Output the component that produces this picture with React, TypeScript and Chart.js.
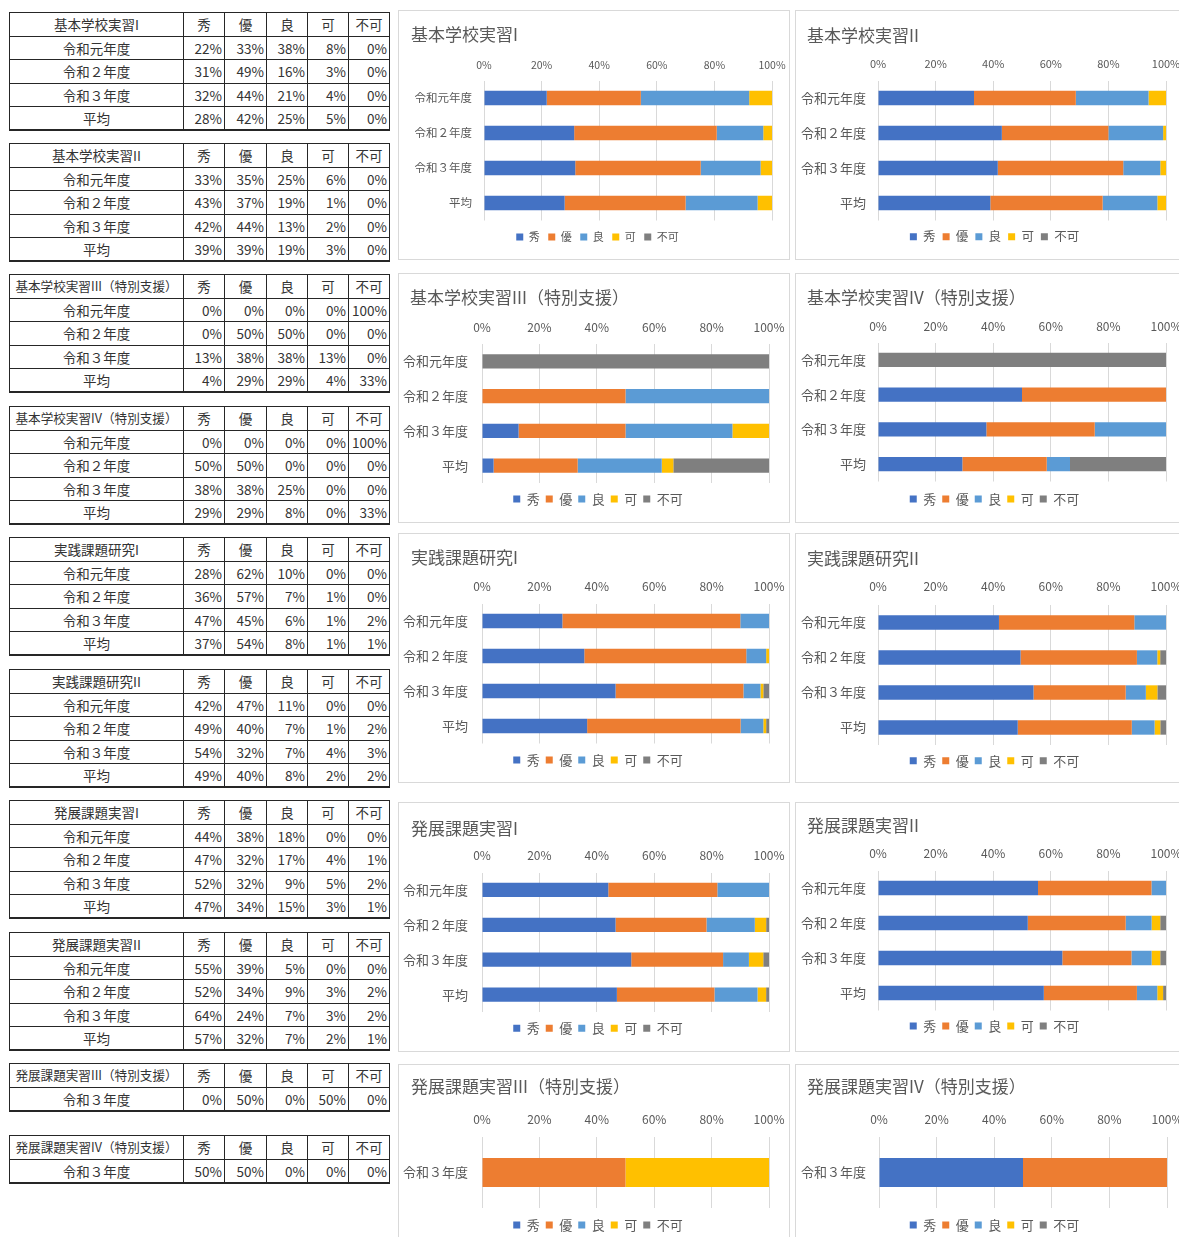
import React, { useEffect, useRef } from "react";
import { Chart, registerables } from "chart.js";

Chart.register(...registerables);

const FONT = '"Noto Sans CJK JP", "Noto Sans", sans-serif';

// series (grades) and their colours
const grades = ["秀", "優", "良", "可", "不可"];
const gradeColors = ["#4472C4", "#ED7D31", "#5B9BD5", "#FFC000", "#7F7F7F"];

// categories
const years = ["令和元年度", "令和２年度", "令和３年度", "平均"];
const yearsR3 = ["令和３年度"];

// x-axis tick values (shown as %)
const percentTicks = [0, 20, 40, 60, 80, 100];

// values per course: one row per category, one column per grade (%)
const kihon1 = [[22, 33, 38, 8, 0], [31, 49, 16, 3, 0], [32, 44, 21, 4, 0], [28, 42, 25, 5, 0]];
const kihon2 = [[33, 35, 25, 6, 0], [43, 37, 19, 1, 0], [42, 44, 13, 2, 0], [39, 39, 19, 3, 0]];
const kihon3 = [[0, 0, 0, 0, 100], [0, 50, 50, 0, 0], [13, 38, 38, 13, 0], [4, 29, 29, 4, 33]];
const kihon4 = [[0, 0, 0, 0, 100], [50, 50, 0, 0, 0], [38, 38, 25, 0, 0], [29, 29, 8, 0, 33]];
const jissen1 = [[28, 62, 10, 0, 0], [36, 57, 7, 1, 0], [47, 45, 6, 1, 2], [37, 54, 8, 1, 1]];
const jissen2 = [[42, 47, 11, 0, 0], [49, 40, 7, 1, 2], [54, 32, 7, 4, 3], [49, 40, 8, 2, 2]];
const hatten1 = [[44, 38, 18, 0, 0], [47, 32, 17, 4, 1], [52, 32, 9, 5, 2], [47, 34, 15, 3, 1]];
const hatten2 = [[55, 39, 5, 0, 0], [52, 34, 9, 3, 2], [64, 24, 7, 3, 2], [57, 32, 7, 2, 1]];
const hatten3 = [[0, 50, 0, 50, 0]];
const hatten4 = [[50, 50, 0, 0, 0]];

// course titles
const tKihon1 = "基本学校実習I";
const tKihon2 = "基本学校実習II";
const tKihon3 = "基本学校実習III（特別支援）";
const tKihon4 = "基本学校実習IV（特別支援）";
const tJissen1 = "実践課題研究I";
const tJissen2 = "実践課題研究II";
const tHatten1 = "発展課題実習I";
const tHatten2 = "発展課題実習II";
const tHatten3 = "発展課題実習III（特別支援）";
const tHatten4 = "発展課題実習IV（特別支援）";

type Layout = {
  x: number; y: number;
  titleX: number; titleCy: number; titleFont: number;
  tickCy: number; tickFont: number;
  plotTop: number; plotBottom: number; plotLeft: number; plotRight: number;
  labelRight: number; labelFont: number;
  legendCx: number; legendCy: number; legendFont: number; legendPad: number;
};

function mk(col: number, o: Partial<Layout>): Layout {
  const base: Layout =
    col === 0
      ? {
          x: 398, y: 0, titleX: 410, titleCy: 0, titleFont: 17, tickCy: 0, tickFont: 12,
          plotTop: 0, plotBottom: 0, plotLeft: 482, plotRight: 769, labelRight: 468, labelFont: 13,
          legendCx: 598, legendCy: 0, legendFont: 13, legendPad: 6,
        }
      : {
          x: 795, y: 0, titleX: 807, titleCy: 0, titleFont: 17, tickCy: 0, tickFont: 12,
          plotTop: 0, plotBottom: 0, plotLeft: 878, plotRight: 1166, labelRight: 866, labelFont: 13,
          legendCx: 994.5, legendCy: 0, legendFont: 13, legendPad: 6,
        };
  return { ...base, ...o };
}

const panels = [
  { title: tKihon1, cats: years, values: kihon1, L: mk(0, { y: 10, titleX: 411, titleCy: 35, tickCy: 65, tickFont: 10.5, plotTop: 80.5, plotBottom: 220.5, plotLeft: 484, plotRight: 772, labelRight: 472, labelFont: 11.5, legendCx: 597.5, legendCy: 237, legendFont: 11, legendPad: 8.5 }) },
  { title: tKihon2, cats: years, values: kihon2, L: mk(1, { y: 10, titleCy: 35.5, tickCy: 63.5, tickFont: 11, plotTop: 80.5, plotBottom: 220.5, legendCy: 236.7, legendFont: 12.5, legendPad: 7 }) },
  { title: tKihon3, cats: years, values: kihon3, L: mk(0, { y: 273, titleCy: 298, tickCy: 327, plotTop: 344, plotBottom: 483, legendCy: 499 }) },
  { title: tKihon4, cats: years, values: kihon4, L: mk(1, { y: 273, titleCy: 298, tickCy: 326, plotTop: 342.5, plotBottom: 481.5, legendCy: 499 }) },
  { title: tJissen1, cats: years, values: jissen1, L: mk(0, { y: 533, titleX: 411, titleCy: 557.5, tickCy: 586.7, plotTop: 603.5, plotBottom: 743.5, legendCy: 760 }) },
  { title: tJissen2, cats: years, values: jissen2, L: mk(1, { y: 533, titleCy: 559, tickCy: 586.7, plotTop: 605, plotBottom: 745, legendCy: 760.7 }) },
  { title: tHatten1, cats: years, values: hatten1, L: mk(0, { y: 802, titleX: 411, titleCy: 829, tickCy: 855, plotTop: 872.5, plotBottom: 1012, legendCy: 1028.3 }) },
  { title: tHatten2, cats: years, values: hatten2, L: mk(1, { y: 802, titleCy: 826, tickCy: 853, plotTop: 870.5, plotBottom: 1010.5, legendCy: 1026 }) },
  { title: tHatten3, cats: yearsR3, values: hatten3, L: mk(0, { y: 1064, titleX: 411, titleCy: 1086.7, tickCy: 1119.3, plotTop: 1137, plotBottom: 1208, legendCy: 1225 }) },
  { title: tHatten4, cats: yearsR3, values: hatten4, L: mk(1, { y: 1064, titleCy: 1086.5, tickCy: 1119.3, plotTop: 1137, plotBottom: 1208, plotLeft: 879, plotRight: 1167, legendCy: 1225 }) },
];

const tables = [
  { title: tKihon1, cats: years, values: kihon1, top: 12 },
  { title: tKihon2, cats: years, values: kihon2, top: 143 },
  { title: tKihon3, cats: years, values: kihon3, top: 274 },
  { title: tKihon4, cats: years, values: kihon4, top: 406 },
  { title: tJissen1, cats: years, values: jissen1, top: 537 },
  { title: tJissen2, cats: years, values: jissen2, top: 669 },
  { title: tHatten1, cats: years, values: hatten1, top: 800 },
  { title: tHatten2, cats: years, values: hatten2, top: 932 },
  { title: tHatten3, cats: yearsR3, values: hatten3, top: 1063 },
  { title: tHatten4, cats: yearsR3, values: hatten4, top: 1135 },
];

const PW = 392;
const PH = 250;

function ChartPanel({ title, cats, values, L }: { title: string; cats: string[]; values: number[][]; L: Layout }) {
  const ref = useRef<HTMLCanvasElement>(null);
  useEffect(() => {
    if (!ref.current) return;
    const W = PW - 2;
    const H = PH - 2;
    const ox = L.x + 1;
    const oy = L.y + 1;
    const titleX = L.titleX - ox;
    const titleCy = L.titleCy - oy;
    const tlh = L.titleFont * 1.2;
    const titleTopPad = titleCy - tlh / 2;
    const titleBottom = titleCy + tlh / 2;
    const plotTop = L.plotTop - oy;
    const plotBottom = L.plotBottom - oy;
    const plotLeft = L.plotLeft - ox;
    const plotRight = L.plotRight - ox;
    const xAxisH = plotTop - titleBottom;
    const tickPad = plotTop - (L.tickCy - oy) - (L.tickFont * 1.2) / 2;
    const yAxisW = plotLeft;
    const yPad = plotLeft - (L.labelRight - ox);
    const box = 7;
    const itemH = Math.max(L.legendFont, box);
    const lp = L.legendPad;
    const legendH = itemH + lp + 10;
    const padBottom = Math.max(0, H - plotBottom - legendH);
    const legendCx = L.legendCx - ox;
    const legendCy = L.legendCy - oy;

    const placeBoxes = {
      id: "placeBoxes",
      afterLayout(chart: any) {
        const lg = chart.legend;
        if (lg) {
          const dx = legendCx - (lg.left + lg.right) / 2;
          const dy = legendCy - (lg.top + lp + itemH / 2);
          lg.left += dx;
          lg.right += dx;
          lg.top += dy;
          lg.bottom += dy;
        }
        const tt = chart.titleBlock;
        if (tt) {
          const dx = titleX - tt.left;
          tt.left += dx;
          tt.right += dx;
        }
      },
    };

    const chart = new Chart(ref.current, {
      type: "bar",
      data: {
        labels: cats,
        datasets: grades.map((g, gi) => ({
          label: g,
          data: values.map((row) => {
            const total = row.reduce((a, b) => a + b, 0);
            return (row[gi] / total) * 100;
          }),
          backgroundColor: gradeColors[gi],
          borderWidth: 0,
          barPercentage: 0.41,
          categoryPercentage: 1,
        })),
      },
      options: {
        indexAxis: "y",
        responsive: false,
        animation: false,
        events: [],
        layout: { padding: { left: 0, right: W - plotRight, top: 0, bottom: padBottom } },
        scales: {
          x: {
            type: "linear",
            position: "top",
            stacked: true,
            min: 0,
            max: 100,
            afterBuildTicks: (s: any) => {
              s.ticks = percentTicks.map((v) => ({ value: v }));
            },
            afterFit: (s: any) => {
              s.height = xAxisH;
              s.paddingLeft = 0;
              s.paddingRight = 0;
            },
            ticks: {
              padding: tickPad,
              color: "#595959",
              autoSkip: false,
              maxRotation: 0,
              font: { family: FONT, size: L.tickFont, lineHeight: 1.2 },
              callback: (v: any) => v + "%",
            },
            grid: { color: "#d9d9d9", drawTicks: false, lineWidth: 1 },
            border: { display: false },
          },
          y: {
            type: "category",
            stacked: true,
            afterFit: (s: any) => {
              s.width = yAxisW;
              s.paddingTop = 0;
              s.paddingBottom = 0;
            },
            ticks: { padding: yPad, color: "#595959", font: { family: FONT, size: L.labelFont } },
            grid: { display: false, drawTicks: false },
            border: { display: false },
          },
        },
        plugins: {
          title: {
            display: true,
            text: title,
            align: "start",
            color: "#595959",
            font: { family: FONT, size: L.titleFont, weight: "normal", lineHeight: 1.2 },
            padding: { top: titleTopPad, bottom: 0 },
          },
          legend: {
            display: true,
            position: "bottom",
            labels: {
              boxWidth: box,
              boxHeight: box,
              padding: lp,
              color: "#595959",
              font: { family: FONT, size: L.legendFont },
            },
          },
          tooltip: { enabled: false },
        },
      } as any,
      plugins: [placeBoxes],
    });
    return () => chart.destroy();
  }, []);

  return (
    <div
      style={{
        position: "absolute",
        left: L.x,
        top: L.y,
        width: PW,
        height: PH,
        border: "1px solid #d9d9d9",
        boxSizing: "border-box",
        background: "#fff",
      }}
    >
      <canvas ref={ref} width={PW - 2} height={PH - 2} style={{ display: "block" }} />
    </div>
  );
}

function GradeTable({ title, cats, values, top }: { title: string; cats: string[]; values: number[][]; top: number }) {
  const line = "1px solid #262626";
  const cell: React.CSSProperties = {
    border: line,
    padding: 0,
    whiteSpace: "nowrap",
    overflow: "hidden",
    lineHeight: "20px",
  };
  const longTitle = title.length > 9;
  return (
    <table
      style={{
        position: "absolute",
        left: 9,
        top,
        width: 380,
        borderCollapse: "collapse",
        tableLayout: "fixed",
        fontFamily: FONT,
        fontSize: 13.5,
        color: "#333333",
        borderBottom: "2px solid #262626",
      }}
    >
      <colgroup>
        <col style={{ width: 174 }} />
        <col style={{ width: 41 }} />
        <col style={{ width: 42 }} />
        <col style={{ width: 41 }} />
        <col style={{ width: 41 }} />
        <col style={{ width: 41 }} />
      </colgroup>
      <tbody>
        <tr style={{ height: 23.6 }}>
          <td style={{ ...cell, textAlign: "center", fontSize: longTitle ? 12.6 : 13.5 }}>{title}</td>
          {grades.map((g) => (
            <td key={g} style={{ ...cell, textAlign: "center" }}>
              {g}
            </td>
          ))}
        </tr>
        {cats.map((c, i) => (
          <tr key={c} style={{ height: 23.6 }}>
            <td style={{ ...cell, textAlign: "center" }}>{c}</td>
            {values[i].map((v, j) => (
              <td key={j} style={{ ...cell, textAlign: "right", paddingRight: 2 }}>
                {v}%
              </td>
            ))}
          </tr>
        ))}
      </tbody>
    </table>
  );
}

export default function App() {
  return (
    <div
      style={{
        position: "absolute",
        left: 0,
        top: 0,
        width: 1179,
        height: 1237,
        overflow: "hidden",
        background: "#fff",
        fontFamily: FONT,
      }}
    >
      {tables.map((t) => (
        <GradeTable key={t.title} title={t.title} cats={t.cats} values={t.values} top={t.top} />
      ))}
      {panels.map((p) => (
        <ChartPanel key={p.title} title={p.title} cats={p.cats} values={p.values} L={p.L} />
      ))}
    </div>
  );
}
